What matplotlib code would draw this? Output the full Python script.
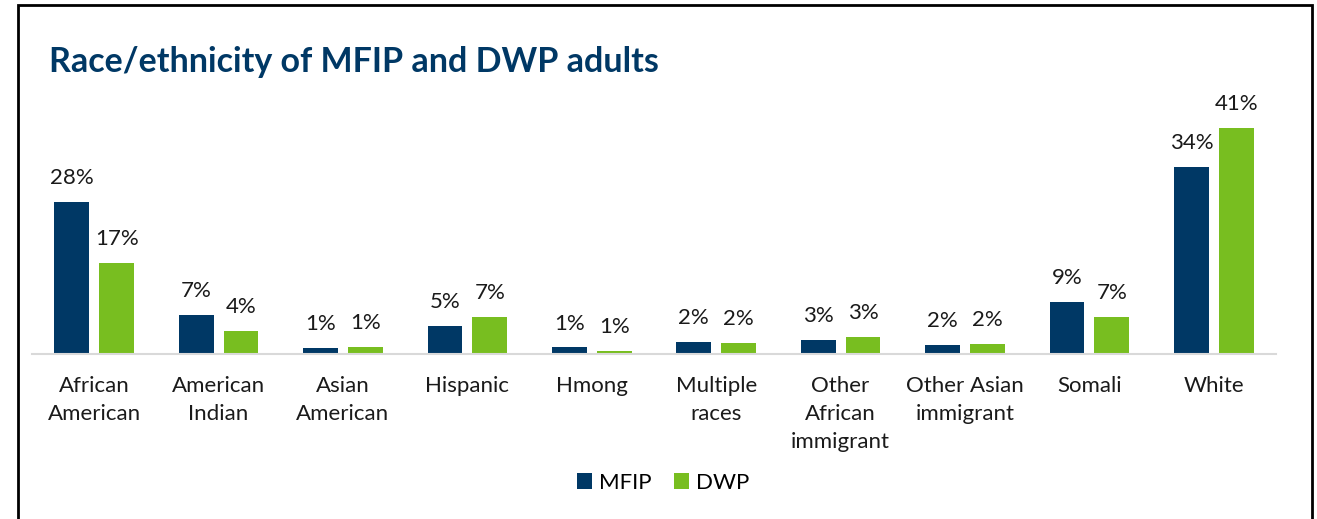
import matplotlib.pyplot as plt
from matplotlib.patches import Rectangle
import numpy as np

plt.rcParams['font.family'] = ['Lato', 'DejaVu Sans']

# данные (проценты)
groups = ['African\nAmerican', 'American\nIndian', 'Asian\nAmerican', 'Hispanic',
          'Hmong', 'Multiple\nraces', 'Other\nAfrican\nimmigrant',
          'Other Asian\nimmigrant', 'Somali', 'White']
mfip = [27.7, 7.1, 1.1, 5.1, 1.2, 2.2, 2.6, 1.6, 9.4, 34.0]
dwp = [16.6, 4.2, 1.3, 6.7, 0.6, 2.0, 3.1, 1.8, 6.7, 41.1]
series_names = ['MFIP', 'DWP']

navy = '#003865'
green = '#78BE20'

W, H = 1317, 519
fig = plt.figure(figsize=(W / 100, H / 100), dpi=100)

# рамка вокруг рисунка (низ срезан)
fig.patches.append(Rectangle((18 / W, -0.05), (1312 - 18) / W, 1.05 - 5 / H,
                             transform=fig.transFigure, fill=False,
                             edgecolor='black', linewidth=2))

base_y = (H - 354) / H
ax = fig.add_axes([32 / W, base_y, (1276 - 32) / W, 45 * 5.5 / H])

x = np.arange(len(groups))
w = 0.28
off = 0.18
b1 = ax.bar(x - off, mfip, w, color=navy, label=series_names[0])
b2 = ax.bar(x + off, dwp, w, color=green, label=series_names[1])

for bars, vals in ((b1, mfip), (b2, dwp)):
    for rect, v in zip(bars, vals):
        ax.annotate(f'{int(v + 0.5)}%', (rect.get_x() + rect.get_width() / 2, v),
                    xytext=(0, 10), textcoords='offset points',
                    ha='center', va='bottom', fontsize=16, color='#1a1a1a')

ax.set_xlim(-0.5, len(groups) - 0.5)
ax.set_ylim(0, 45)
ax.set_xticks(x)
ax.set_xticklabels(groups, fontsize=16, color='#1a1a1a', linespacing=1.5)
ax.tick_params(axis='x', length=0, pad=16)
ax.set_yticks([])
for s in ['top', 'right', 'left']:
    ax.spines[s].set_visible(False)
ax.spines['bottom'].set_color('#D9D9D9')
ax.spines['bottom'].set_linewidth(1.5)
ax.patch.set_alpha(0)

fig.text(49 / W, (H - 62) / H, 'Race/ethnicity of MFIP and DWP adults',
         fontsize=24.5, fontweight='bold', color=navy, va='center', ha='left')

fig.legend(handles=[b1, b2], loc='center', bbox_to_anchor=(663 / W, (H - 483) / H),
           ncol=2, frameon=False, fontsize=16, handlelength=0.7, handleheight=0.7,
           handletextpad=0.3, columnspacing=1.0)

fig.savefig('out.png', dpi=100)
